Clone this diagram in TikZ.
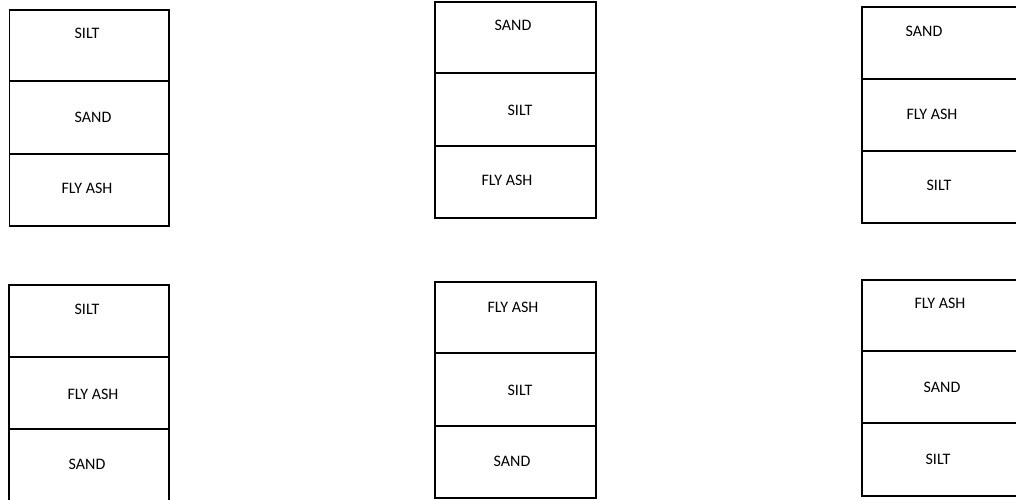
\documentclass[tikz,border=0pt]{standalone}
\usepackage{fontspec}
\setmainfont{Carlito}
\begin{document}
\begin{tikzpicture}[x=1pt,y=-1pt,
  cell/.style={draw=black, line width=1.6pt, rectangle, outer sep=0pt, inner sep=0pt,
    anchor=north west, minimum width=#1},
  cell/.default=160pt,
  layer/.style={font=\fontsize{16}{19}\selectfont, inner sep=0pt, anchor=center}]
\useasboundingbox (0,0) rectangle (1016,499);

% column 1, top: silt / sand / fly ash
\node[cell=159.5pt, minimum height=71pt] (a1) at (9.5,10) {};
\node[cell=159.5pt, minimum height=73pt] (a2) at (9.5,81) {};
\node[cell=159.5pt, minimum height=72pt] (a3) at (9.5,154) {};
\node[layer] (ta1) at (87,33) {SILT};
\node[layer] (ta2) at (93,117) {SAND};
\node[layer] (ta3) at (87,188) {FLY ASH};

% column 2, top: sand / silt / fly ash
\node[cell=161pt, minimum height=71pt] (b1) at (435,2) {};
\node[cell=161pt, minimum height=73pt] (b2) at (435,73) {};
\node[cell=161pt, minimum height=72pt] (b3) at (435,146) {};
\node[layer] (tb1) at (513,25) {SAND};
\node[layer] (tb2) at (520,110) {SILT};
\node[layer] (tb3) at (507,180) {FLY ASH};

% column 3, top: sand / fly ash / silt
\node[cell=160pt, minimum height=72pt] (c1) at (862,7) {};
\node[cell=160pt, minimum height=72pt] (c2) at (862,79) {};
\node[cell=160pt, minimum height=72pt] (c3) at (862,151) {};
\node[layer] (tc1) at (924,31) {SAND};
\node[layer] (tc2) at (932,114) {FLY ASH};
\node[layer] (tc3) at (939,185) {SILT};

% column 1, bottom: silt / fly ash / sand
\node[cell=160pt, minimum height=72pt] (d1) at (9,285) {};
\node[cell=160pt, minimum height=72pt] (d2) at (9,357) {};
\node[cell=160pt, minimum height=72pt] (d3) at (9,429) {};
\node[layer] (td1) at (87,309) {SILT};
\node[layer] (td2) at (93,394) {FLY ASH};
\node[layer] (td3) at (87,464) {SAND};

% column 2, bottom: fly ash / silt / sand
\node[cell=161pt, minimum height=71pt] (e1) at (435,282) {};
\node[cell=161pt, minimum height=73pt] (e2) at (435,353) {};
\node[cell=161pt, minimum height=72pt] (e3) at (435,426) {};
\node[layer] (te1) at (513,307) {FLY ASH};
\node[layer] (te2) at (520,390) {SILT};
\node[layer] (te3) at (512,461) {SAND};

% column 3, bottom: fly ash / sand / silt
\node[cell=160pt, minimum height=71pt] (f1) at (862,280) {};
\node[cell=160pt, minimum height=72pt] (f2) at (862,351) {};
\node[cell=160pt, minimum height=73pt] (f3) at (862,423) {};
\node[layer] (tf1) at (940,303) {FLY ASH};
\node[layer] (tf2) at (942,387) {SAND};
\node[layer] (tf3) at (938,459) {SILT};
\end{tikzpicture}
\end{document}
